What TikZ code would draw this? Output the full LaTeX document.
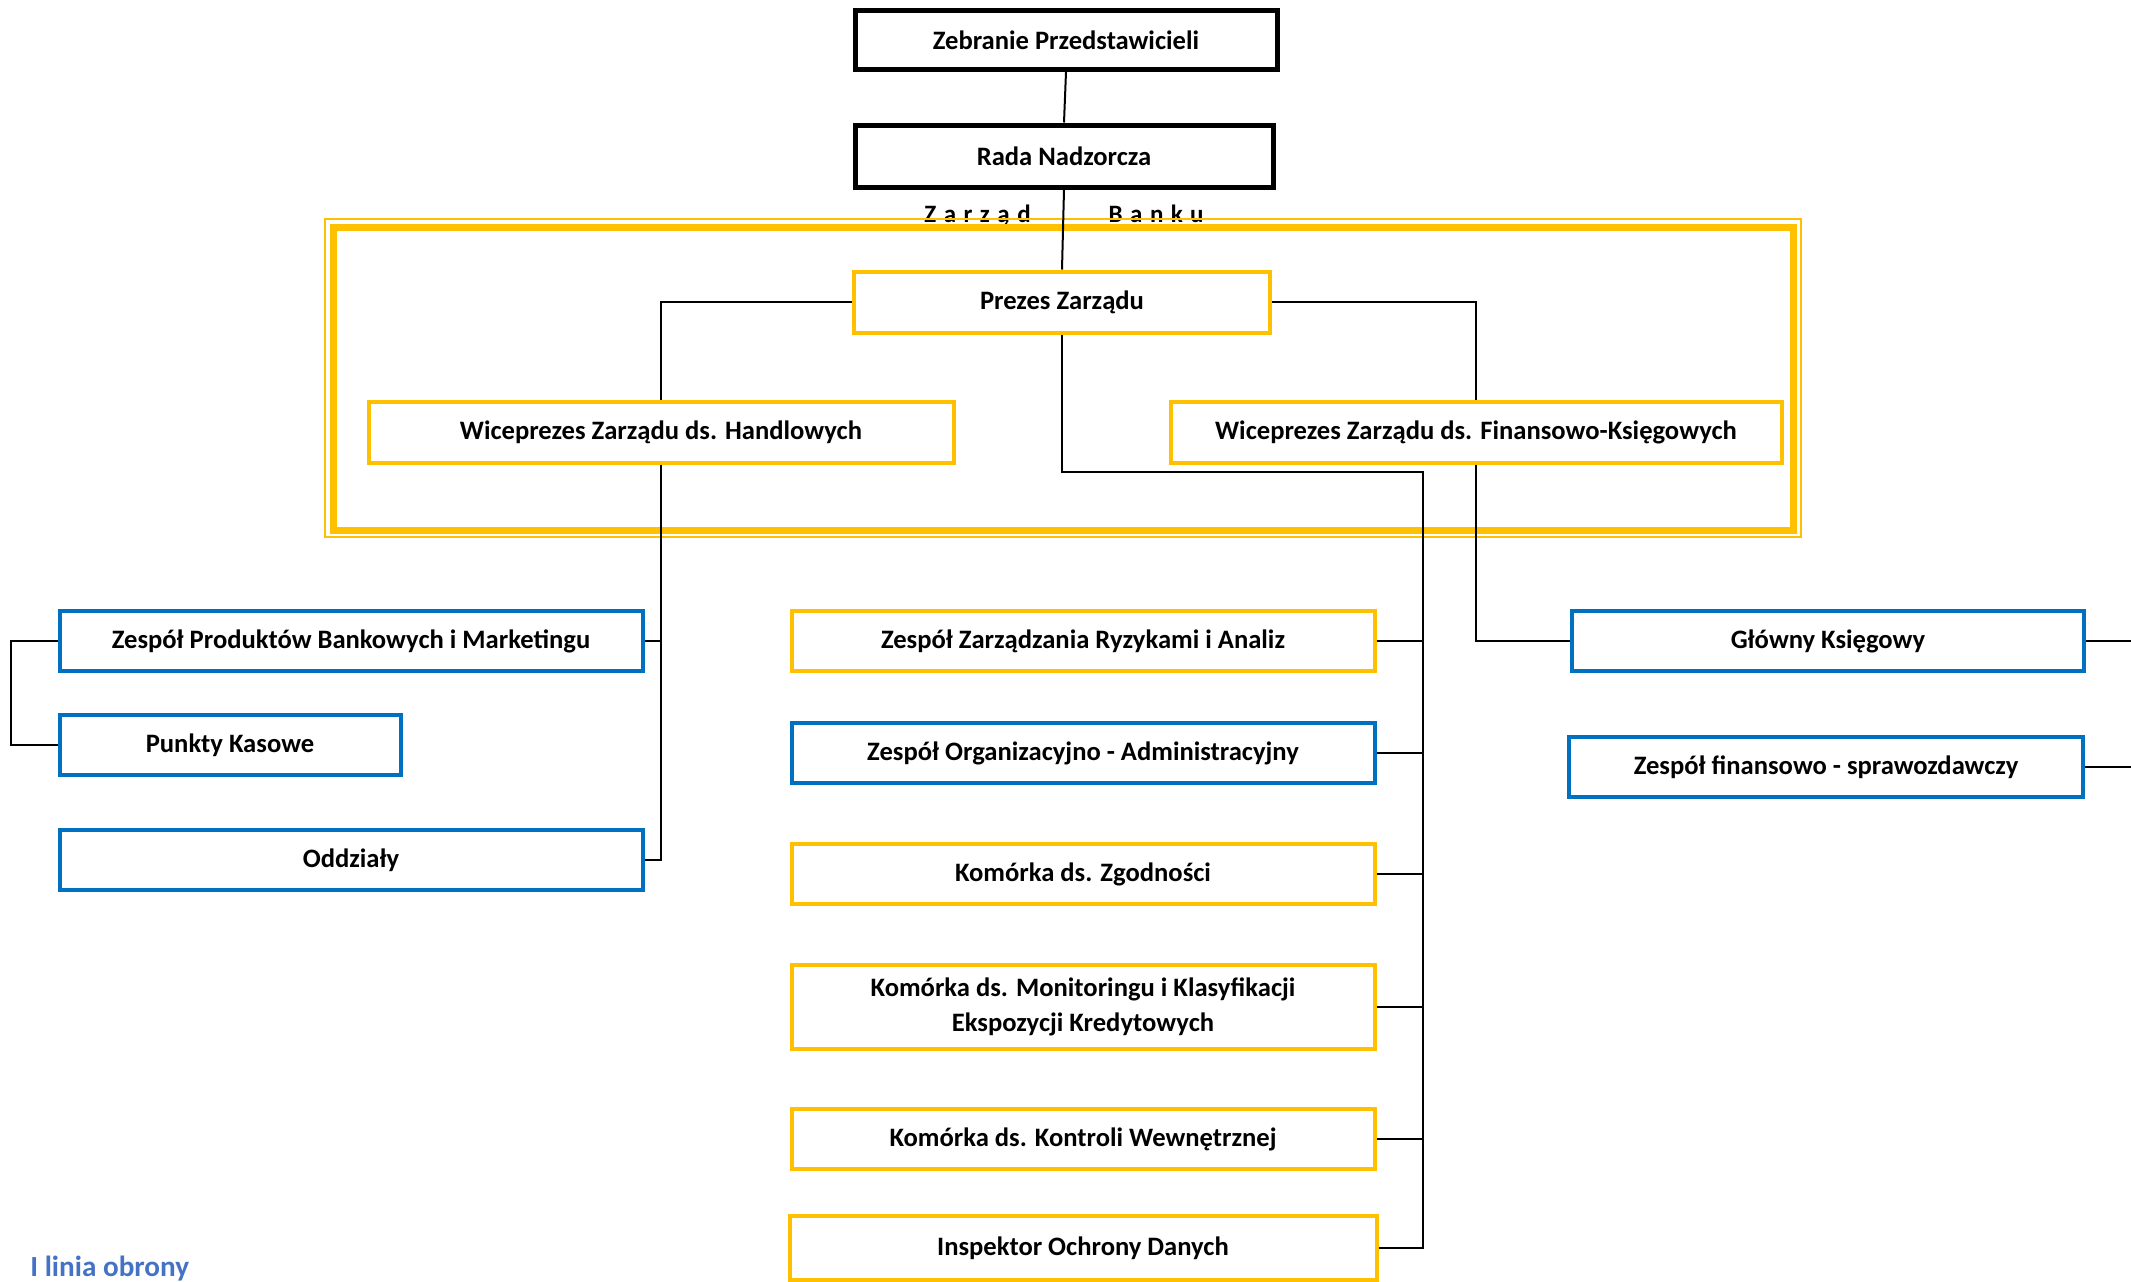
\documentclass[tikz,border=0pt]{standalone}
\usepackage{fontspec}
\setmainfont{Carlito}
\definecolor{zyellow}{HTML}{FFC000}
\definecolor{zblue}{HTML}{0070C0}
\definecolor{lineblue}{HTML}{4472C4}
\tikzset{
  orgbox/.style={rectangle, inner sep=0pt, fill=white, align=center,
    font=\bfseries\fontsize{13.3}{17.5}\selectfont},
  topbox/.style={orgbox, draw=black, line width=2.5pt},
  mgmtbox/.style={orgbox, draw=zyellow, line width=2pt},
  bluebox/.style={orgbox, draw=zblue, line width=2pt},
  link/.style={draw=black, line width=1pt},
}
\begin{document}
\begin{tikzpicture}[x=0.5pt,y=-0.5pt]
\useasboundingbox (0,0) rectangle (2131,1281);
\node[anchor=base, inner sep=0pt, font=\bfseries\fontsize{12.5}{15}\selectfont\addfontfeature{LetterSpace=30}] (zarzad) at (1064,222) {Zarząd\hspace{39pt}Banku};
\draw[zyellow, line width=3.5pt] (333,227) rectangle (1793,530);
\draw[zyellow, line width=1pt] (325,219) rectangle (1801,537);
\node[topbox, minimum width=211pt, minimum height=29.5pt] (zebranie) at (1066,40) {Zebranie Przedstawicieli};
\node[topbox, minimum width=209pt, minimum height=31pt] (rada) at (1064,156) {Rada Nadzorcza};
\node[mgmtbox, minimum width=208pt, minimum height=30.5pt] (prezes) at (1062,302) {Prezes Zarządu};
\node[mgmtbox, minimum width=292.5pt, minimum height=30.5pt] (wh) at (661,432) {Wiceprezes Zarządu ds. Handlowych};
\node[mgmtbox, minimum width=305.5pt, minimum height=30.5pt] (wf) at (1476,432) {Wiceprezes Zarządu ds. Finansowo-Księgowych};
\node[bluebox, minimum width=291.5pt, minimum height=30pt] (produkty) at (351,641) {Zespół Produktów Bankowych i Marketingu};
\node[bluebox, minimum width=170.5pt, minimum height=30pt] (kasowe) at (230,745) {Punkty Kasowe};
\node[bluebox, minimum width=291.5pt, minimum height=30pt] (oddzialy) at (351,860) {Oddziały};
\node[mgmtbox, minimum width=291.5pt, minimum height=30pt] (ryzyka) at (1083,641) {Zespół Zarządzania Ryzykami i Analiz};
\node[bluebox, minimum width=291.5pt, minimum height=30pt] (organizacja) at (1083,753) {Zespół Organizacyjno - Administracyjny};
\node[mgmtbox, minimum width=291.5pt, minimum height=30pt] (zgodnosc) at (1083,874) {Komórka ds. Zgodności};
\node[mgmtbox, minimum width=291.5pt, minimum height=42pt] (monitoring) at (1083,1007) {Komórka ds. Monitoringu i Klasyfikacji\\Ekspozycji Kredytowych};
\node[mgmtbox, minimum width=291.5pt, minimum height=30pt] (kontrola) at (1083,1139) {Komórka ds. Kontroli Wewnętrznej};
\node[mgmtbox, minimum width=293.5pt, minimum height=32pt] (inspektor) at (1083,1248) {Inspektor Ochrony Danych};
\node[bluebox, minimum width=256pt, minimum height=30pt] (ksiegowy) at (1828,641) {Główny Księgowy};
\node[bluebox, minimum width=257pt, minimum height=30pt] (finanse) at (1826,767) {Zespół finansowo - sprawozdawczy};
\node[anchor=base west, inner sep=0pt, text=lineblue, font=\bfseries\fontsize{14.6}{17}\selectfont] (linia) at (30,1276) {I linia obrony};
\draw[link] (zebranie.south) -- (rada.north);
\draw[link] (rada.south) -- (prezes.north);
\draw[link] (prezes.west) -| (wh.north);
\draw[link] (prezes.east) -| (wf.north);
\draw[link] (wh.south) |- (oddzialy.east);
\draw[link] (produkty.east) -- (produkty.east -| wh.south);
\draw[link] (produkty.west) -- ++(-47,0) |- (kasowe.west);
\coordinate (bus) at (1423,472);
\draw[link] (prezes.south) |- (bus) |- (inspektor.east);
\foreach \n in {ryzyka,organizacja,zgodnosc,monitoring,kontrola}
  \draw[link] (\n.east) -- (\n.east -| bus);
\draw[link] (wf.south) |- (ksiegowy.west);
\coordinate (edge) at (2131,0);
\draw[link] (ksiegowy.east) -- (ksiegowy.east -| edge);
\draw[link] (finanse.east) -- (finanse.east -| edge);
\end{tikzpicture}
\end{document}
